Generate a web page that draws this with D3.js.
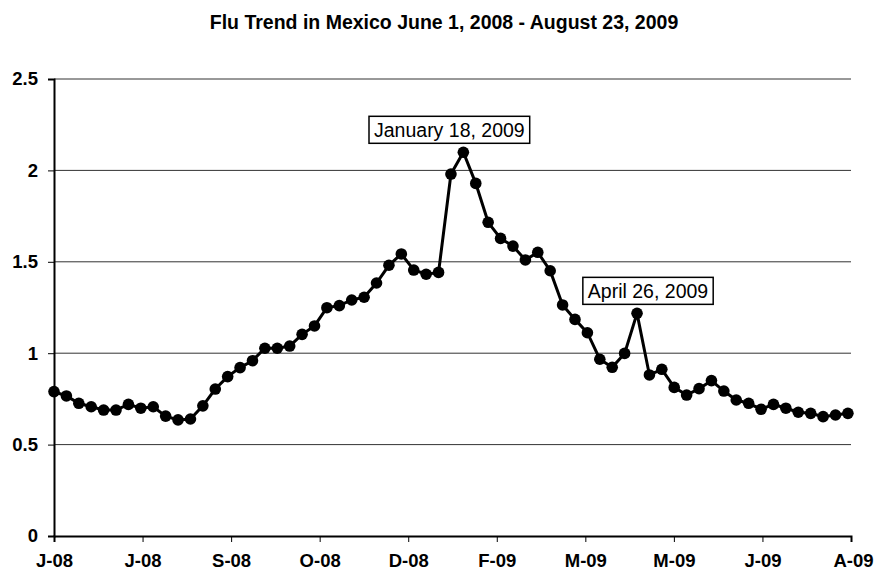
<!DOCTYPE html>
<html>
<head>
<meta charset="utf-8">
<script src="https://cdn.jsdelivr.net/npm/d3@7"></script>
<style>
  body { margin: 0; background: #fff; }
  svg { font-family: Arial, "Liberation Sans", sans-serif; }
</style>
</head>
<body>
<svg id="canvas" width="874" height="574"></svg>
<script>
// weekly flu trend, June 1 2008 .. August 23 2009 (65 weeks)
let fluValues = [
  0.79, 0.766, 0.726, 0.707, 0.689, 0.689, 0.72, 0.699, 0.707, 0.656,
  0.635, 0.64, 0.712, 0.804, 0.872, 0.921, 0.959, 1.027, 1.027, 1.039,
  1.103, 1.149, 1.249, 1.26, 1.291, 1.306, 1.384, 1.481, 1.543, 1.455,
  1.432, 1.442, 1.98, 2.099, 1.929, 1.716, 1.628, 1.586, 1.51, 1.552,
  1.451, 1.264, 1.185, 1.112, 0.967, 0.923, 0.999, 1.218, 0.881, 0.912,
  0.813, 0.771, 0.806, 0.85, 0.793, 0.744, 0.726, 0.693, 0.72, 0.699,
  0.677, 0.671, 0.653, 0.662, 0.671
]
let tickLabels = ["J-08", "J-08", "S-08", "O-08", "D-08", "F-09", "M-09", "M-09", "J-09", "A-09"]
let yTicks = [0, 0.5, 1, 1.5, 2, 2.5]
let calloutIndex = [33, 47]
let calloutText = ["January 18, 2009", "April 26, 2009"]

let canvas = d3.select("#canvas")

let plotLeft = 54, plotRight = 851, plotTop = 79, plotBottom = 536
let lastIndex = 64.25

let xScale = d3.scaleLinear().domain([0, lastIndex]).range([plotLeft, plotRight])
let yScale = d3.scaleLinear().domain([0, 2.5]).range([plotBottom, plotTop])

// title
canvas.append("text")
  .attr("x", 444).attr("y", 29)
  .attr("text-anchor", "middle")
  .style("font-size", "19.5px")
  .style("font-weight", "bold")
  .text("Flu Trend in Mexico June 1, 2008 - August 23, 2009")

// gridlines
canvas.append("g")
  .selectAll("line")
  .data(yTicks.filter(t => t > 0))
  .enter()
  .append("line")
  .attr("x1", plotLeft).attr("x2", plotRight)
  .attr("y1", t => yScale(t)).attr("y2", t => yScale(t))
  .attr("stroke", "#333").attr("stroke-width", 1)

// y axis
let yAxis = d3.axisLeft(yScale).tickValues(yTicks).tickSize(6).tickPadding(10)
  .tickFormat(d => d)
let yg = canvas.append("g").attr("transform", "translate(" + plotLeft + ",0)").call(yAxis)
yg.select(".domain").attr("stroke", "#000").attr("stroke-width", 2)
yg.selectAll(".tick line").attr("stroke", "#000")
yg.selectAll("text").style("font-size", "18.5px").style("font-weight", "bold").attr("fill", "#000")

// x axis, ticks evenly spread over the axis
let xTickVals = tickLabels.map((_, i) => lastIndex * i / (tickLabels.length - 1))
let xAxis = d3.axisBottom(xScale).tickValues(xTickVals).tickSize(6).tickPadding(12)
  .tickFormat((d, i) => tickLabels[i])
let xg = canvas.append("g").attr("transform", "translate(0," + plotBottom + ")").call(xAxis)
xg.select(".domain").attr("stroke", "#000").attr("stroke-width", 2)
xg.selectAll(".tick line").attr("stroke", "#000")
xg.selectAll("text").style("font-size", "18.5px").style("font-weight", "bold").attr("fill", "#000")
xg.selectAll(".tick text").filter((d, i) => i === tickLabels.length - 1)
  .attr("text-anchor", "end").attr("x", 873 - plotRight)

// line
let line = d3.line().x((d, i) => xScale(i)).y(d => yScale(d))
canvas.append("path")
  .datum(fluValues)
  .attr("d", line)
  .attr("fill", "none")
  .attr("stroke", "#000")
  .attr("stroke-width", 3)

canvas.append("g")
  .selectAll("circle")
  .data(fluValues)
  .enter()
  .append("circle")
  .attr("cx", (d, i) => xScale(i))
  .attr("cy", d => yScale(d))
  .attr("r", 5.8)
  .attr("fill", "#000")

// callout boxes above the two peaks
let calloutShift = [-14, 11]
calloutIndex.forEach((idx, k) => {
  let cx = xScale(idx) + calloutShift[k]
  let cy = yScale(fluValues[idx]) - 15
  let g = canvas.append("g")
  let t = g.append("text")
    .attr("x", cx).attr("y", cy)
    .attr("text-anchor", "middle")
    .style("font-size", "19.5px")
    .text(calloutText[k])
  let bb = t.node().getBBox()
  g.insert("rect", "text")
    .attr("x", bb.x - 5).attr("y", bb.y - 3)
    .attr("width", bb.width + 10).attr("height", bb.height + 5)
    .attr("fill", "#fff").attr("stroke", "#000").attr("stroke-width", 1.5)
})
</script>
</body>
</html>
